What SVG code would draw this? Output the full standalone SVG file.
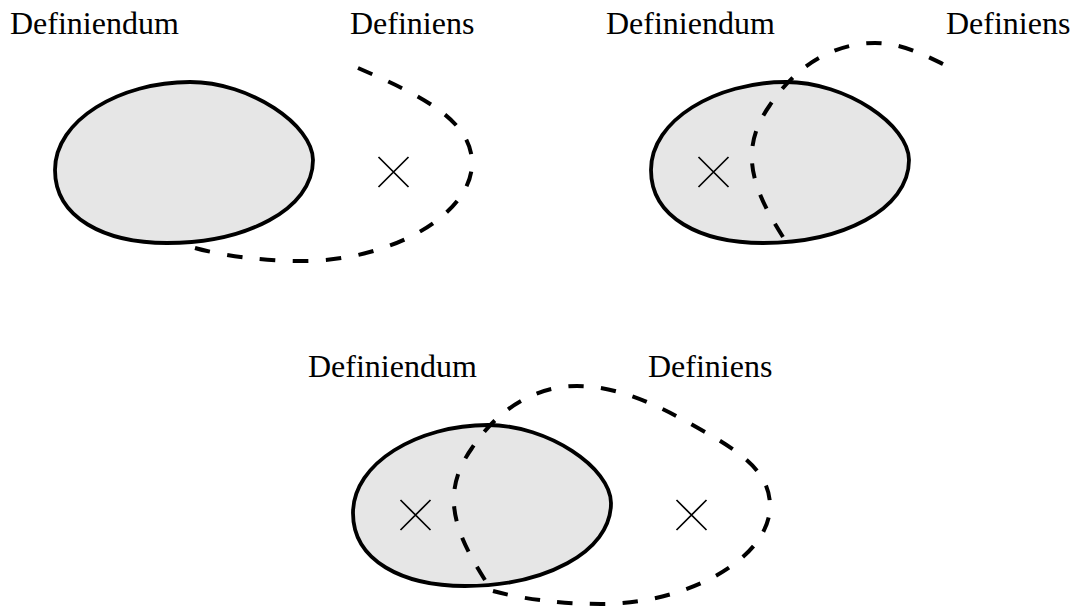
<svg xmlns="http://www.w3.org/2000/svg" width="1072" height="608" viewBox="0 0 1072 608">
<style>
.lbl{font-family:"Liberation Serif","Times New Roman",serif;font-size:32px;fill:#000}
.blob{fill:#e6e6e6;stroke:#000;stroke-width:3.8}
.dash{fill:none;stroke:#000;stroke-width:4;stroke-dasharray:15 17}
.x{stroke:#000;stroke-width:1.7;fill:none}
</style>
<defs>
<path id="egg" d="M55,170 C55,120 120,82 190,82 C250,82 313,125 313,160 C313,210 245,243 167,243 C105,243 55,218 55,170 Z"/>
<path id="cross" d="M-15,-15 L15,15 M-15,15 L15,-15"/>
</defs>

<g id="panel1">
  <g id="p1-definiendum"><use href="#egg" class="blob"/><text class="lbl" x="10" y="34">Definiendum</text></g>
  <g id="p1-definiens"><path class="dash" pathLength="463" d="M358,68 C420,95 472,120 472,163 C472,215 390,261 303,261 C260,261 220,255 195,248"/><text class="lbl" x="350" y="34">Definiens</text></g>
  <g id="p1-x"><use href="#cross" class="x" transform="translate(393.5,172)"/></g>
</g>

<g id="panel2" transform="translate(596,0)">
  <g id="p2-definiendum"><use href="#egg" class="blob"/><text class="lbl" x="10" y="34">Definiendum</text></g>
  <g id="p2-definiens"><path class="dash" pathLength="335" d="M187,237 C156,188 142,150 174,105 C204,60 244,43 279,43 C304,43 324,53 347,64"/><text class="lbl" x="350" y="34">Definiens</text></g>
  <g id="p2-x"><use href="#cross" class="x" transform="translate(117.5,172)"/></g>
</g>

<g id="panel3" transform="translate(298,343)">
  <g id="p3-definiendum"><use href="#egg" class="blob"/><text class="lbl" x="10" y="34">Definiendum</text></g>
  <g id="p3-definiens"><path class="dash" pathLength="815" d="M187,237 C156,188 142,150 174,105 C204,60 244,43 279,43 C320,43 360,62 400,85 C445,110 472,130 472,163 C472,215 390,261 303,261 C260,261 220,255 195,248"/><text class="lbl" x="350" y="34">Definiens</text></g>
  <g id="p3-x1"><use href="#cross" class="x" transform="translate(117.5,172)"/></g>
  <g id="p3-x2"><use href="#cross" class="x" transform="translate(393.5,172)"/></g>
</g>
</svg>
